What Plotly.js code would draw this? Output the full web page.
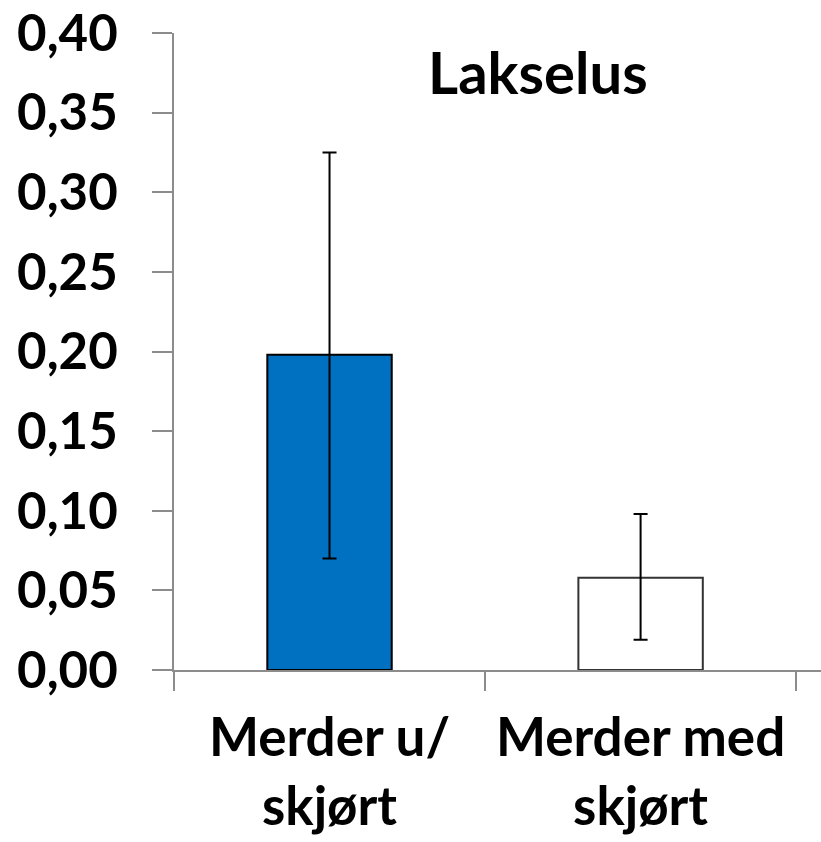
<!DOCTYPE html>
<html>
<head>
<meta charset="utf-8">
<script src="https://cdn.plot.ly/plotly-3.0.1.min.js"></script>
<style>html,body{margin:0;padding:0;background:#fff;}#chart{width:821px;height:842px;}</style>
</head>
<body>
<div id="chart"></div>
<script>
const categories = ["Merder u/<br>skjørt", "Merder med<br>skjørt"];
const values = [0.198, 0.058];
const errPlus = [0.127, 0.040];
const errMinus = [0.128, 0.039];
const yTicks = [0, 0.05, 0.10, 0.15, 0.20, 0.25, 0.30, 0.35, 0.40];
const chartTitle = "Lakselus";

const fillColors = ["#0070C0", "#FFFFFF"];
const edgeColors = ["#000000", "#333333"];
const axisColor = "#8c8c8c";
const fontFamily = "Lato, 'Open Sans', sans-serif";

const trace = {
  type: "bar",
  x: categories,
  y: values,
  width: 0.4,
  marker: { color: fillColors, line: { color: edgeColors, width: 2 } },
  error_y: {
    type: "data",
    symmetric: false,
    array: errPlus,
    arrayminus: errMinus,
    color: "#000000",
    thickness: 2,
    width: 7
  },
  hoverinfo: "none"
};

const layout = {
  width: 821,
  height: 842,
  margin: { l: 174, r: 0, t: 33, b: 172, pad: 0 },
  paper_bgcolor: "#ffffff",
  plot_bgcolor: "#ffffff",
  separators: ",.",
  showlegend: false,
  font: { family: fontFamily, color: "#000000", size: 50, weight: 700 },
  xaxis: {
    type: "category",
    range: [-0.5, 1.58],
    showline: true,
    linecolor: axisColor,
    linewidth: 2,
    ticks: "outside",
    tickson: "boundaries",
    ticklen: 19,
    tickwidth: 2,
    tickcolor: axisColor,
    showgrid: false,
    zeroline: false,
    tickfont: { family: fontFamily, size: 53, color: "#000000", weight: 700 },
    ticklabelstandoff: 20
  },
  yaxis: {
    range: [0, 0.40],
    tickvals: yTicks,
    tickformat: ".2f",
    showline: true,
    linecolor: axisColor,
    linewidth: 2,
    ticks: "outside",
    ticklen: 20,
    tickwidth: 2,
    tickcolor: axisColor,
    showgrid: false,
    zeroline: false,
    tickfont: { family: fontFamily, size: 51, color: "#000000", weight: 700 },
    ticklabelstandoff: 24
  },
  annotations: [{
    text: chartTitle,
    xref: "paper", yref: "paper",
    x: 0.5626, y: 0.94,
    xanchor: "center", yanchor: "middle",
    showarrow: false,
    font: { family: fontFamily, size: 58, color: "#000000", weight: 700 }
  }]
};

Plotly.newPlot("chart", [trace], layout, { displayModeBar: false, staticPlot: true });
</script>
</body>
</html>
